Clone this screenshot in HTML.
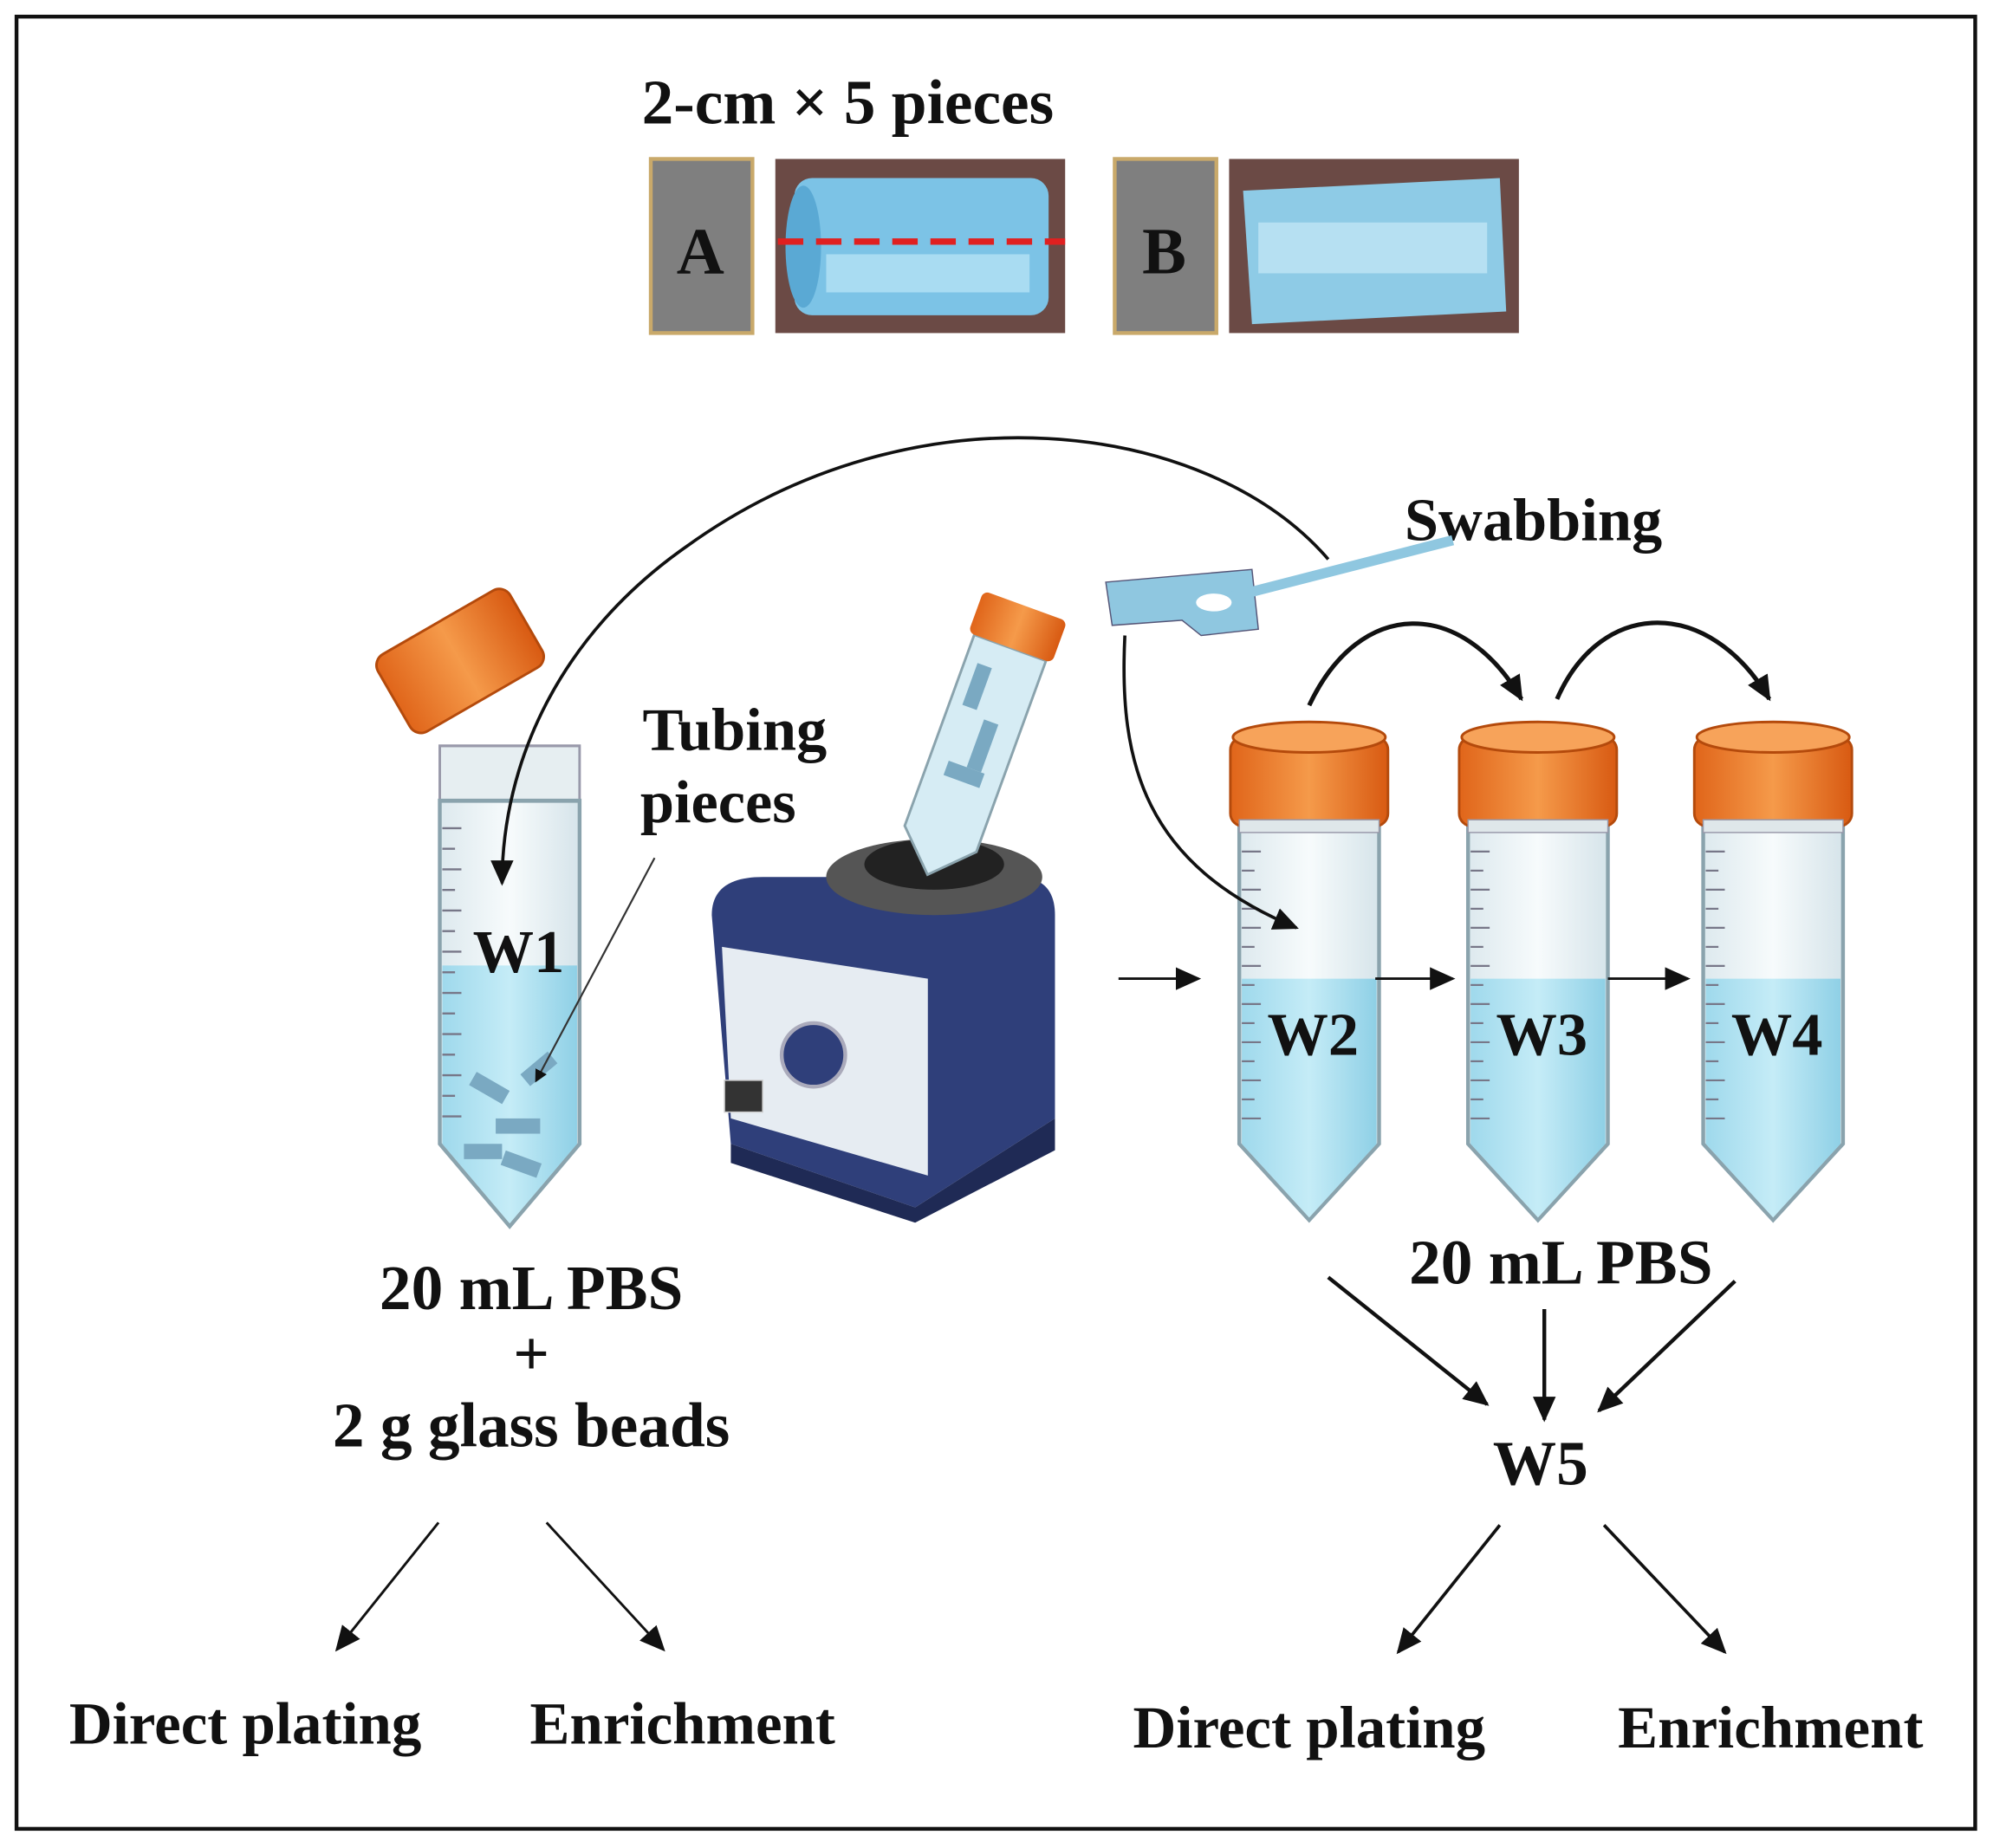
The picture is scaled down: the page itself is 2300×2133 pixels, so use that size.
<!DOCTYPE html>
<html><head><meta charset="utf-8"><style>
html,body{margin:0;padding:0;background:#fff;}
svg{display:block;}
text{font-family:"Liberation Serif",serif;font-weight:bold;fill:#111;}
</style></head><body>
<svg width="2300" height="2133" viewBox="0 0 1568 1454" xmlns="http://www.w3.org/2000/svg">
<defs>
<marker id="ah" markerWidth="10" markerHeight="10" refX="8" refY="5" orient="auto" markerUnits="userSpaceOnUse">
<path d="M0,0 L10,5 L0,10 z" fill="#111"/></marker>
<marker id="ahb" markerWidth="22" markerHeight="22" refX="18" refY="11" orient="auto" markerUnits="userSpaceOnUse">
<path d="M0,2 L20,11 L0,20 z" fill="#111"/></marker>
<linearGradient id="liq" x1="0" x2="1"><stop offset="0" stop-color="#9fd9ec"/><stop offset="0.5" stop-color="#c5ecf7"/><stop offset="1" stop-color="#8fd0e6"/></linearGradient>
<linearGradient id="glass" x1="0" x2="1"><stop offset="0" stop-color="#dde9ee"/><stop offset="0.5" stop-color="#f7fbfc"/><stop offset="1" stop-color="#d6e4ea"/></linearGradient>
<linearGradient id="cap" x1="0" x2="1"><stop offset="0" stop-color="#e0651a"/><stop offset="0.5" stop-color="#f59a4a"/><stop offset="1" stop-color="#d85a12"/></linearGradient>
<g id="tube">
<path d="M-55,0 L55,0 L55,250 L0,310 L-55,250 Z" fill="url(#glass)" stroke="#8aa3ad" stroke-width="3"/>
<path d="M-53,120 L53,120 L53,250 L0,308 L-53,250 Z" fill="url(#liq)"/>
<g stroke="#778" stroke-width="1.5">
<line x1="-53" y1="20" x2="-38" y2="20"/><line x1="-53" y1="35" x2="-43" y2="35"/><line x1="-53" y1="50" x2="-38" y2="50"/><line x1="-53" y1="65" x2="-43" y2="65"/><line x1="-53" y1="80" x2="-38" y2="80"/><line x1="-53" y1="95" x2="-43" y2="95"/><line x1="-53" y1="110" x2="-38" y2="110"/><line x1="-53" y1="125" x2="-43" y2="125"/><line x1="-53" y1="140" x2="-38" y2="140"/><line x1="-53" y1="155" x2="-43" y2="155"/><line x1="-53" y1="170" x2="-38" y2="170"/><line x1="-53" y1="185" x2="-43" y2="185"/><line x1="-53" y1="200" x2="-38" y2="200"/><line x1="-53" y1="215" x2="-43" y2="215"/><line x1="-53" y1="230" x2="-38" y2="230"/>
</g></g>
<g id="cap1">
<rect x="-62" y="-70" width="124" height="70" rx="10" fill="url(#cap)" stroke="#b44a0c" stroke-width="2"/>
<ellipse cx="0" cy="-70" rx="60" ry="12" fill="#f7a35a" stroke="#b44a0c" stroke-width="2"/>
<rect x="-55" y="-5" width="110" height="10" fill="#dfe7ea" stroke="#99a" stroke-width="1"/>
</g>
</defs>
<rect width="1568" height="1454" fill="#fff"/>
<rect x="13" y="13" width="1541" height="1426" fill="none" stroke="#111" stroke-width="3"/>

<text x="667" y="97" font-size="50" text-anchor="middle">2-cm × 5 pieces</text>
<rect x="512" y="125" width="80" height="137" fill="#7f7f7f" stroke="#c9a96a" stroke-width="3"/>
<text x="551" y="215" font-size="52" text-anchor="middle">A</text>
<rect x="610" y="125" width="228" height="137" fill="#6b4a45"/>
<rect x="625" y="140" width="200" height="108" rx="14" fill="#7cc3e6"/>
<ellipse cx="632" cy="194" rx="14" ry="48" fill="#5aa9d4"/>
<rect x="650" y="200" width="160" height="30" fill="#a9dcf2"/>
<line x1="612" y1="190" x2="838" y2="190" stroke="#e02020" stroke-width="5" stroke-dasharray="20,10"/>
<rect x="877" y="125" width="80" height="137" fill="#7f7f7f" stroke="#c9a96a" stroke-width="3"/>
<text x="916" y="215" font-size="52" text-anchor="middle">B</text>
<rect x="967" y="125" width="228" height="137" fill="#6b4a45"/>
<path d="M978,150 L1180,140 L1185,245 L985,255 Z" fill="#8ecbe6"/>
<rect x="990" y="175" width="180" height="40" fill="#b6e0f2"/>

<text x="1105" y="425" font-size="48">Swabbing</text>
<path d="M870,458 L985,448 L990,495 L945,500 L930,488 L875,492 Z" fill="#8fc7e0" stroke="#557" stroke-width="1"/>
<line x1="960" y1="472" x2="1143" y2="425" stroke="#8fc7e0" stroke-width="8"/>
<ellipse cx="955" cy="474" rx="14" ry="7" fill="#fff"/>

<!-- W1 -->
<g transform="translate(401,630) scale(1,1.08)">
<rect x="-55" y="-40" width="110" height="40" fill="#e6eef1" stroke="#99a" stroke-width="2"/>
<use href="#tube"/>
</g>
<g transform="translate(362,520) rotate(-30)"><rect x="-60" y="-35" width="120" height="70" rx="10" fill="url(#cap)" stroke="#b44a0c" stroke-width="2"/></g>
<g fill="#7aa9c2"><rect x="370" y="850" width="30" height="12" transform="rotate(30 385 856)"/><rect x="390" y="880" width="35" height="12"/><rect x="365" y="900" width="30" height="12"/><rect x="410" y="835" width="28" height="12" transform="rotate(-40 424 841)"/><rect x="395" y="910" width="30" height="12" transform="rotate(20 410 916)"/></g>
<text x="408" y="765" font-size="48" text-anchor="middle">W1</text>
<text x="578" y="590" font-size="48" text-anchor="middle">Tubing</text>
<text x="565" y="647" font-size="48" text-anchor="middle">pieces</text>

<!-- vortex -->
<path d="M560,720 Q560,690 600,690 L800,690 Q830,690 830,720 L830,880 L720,950 L575,900 Z" fill="#2f3f7a"/>
<path d="M575,900 L720,950 L830,880 L830,905 L720,962 L575,915 Z" fill="#1f2a55"/>
<path d="M568,745 L730,770 L730,925 L575,880 Z" fill="#e6ecf2"/>
<circle cx="640" cy="830" r="25" fill="#2f3f7a" stroke="#aab" stroke-width="3"/>
<rect x="570" y="850" width="30" height="25" fill="#333" stroke="#ccc"/>
<ellipse cx="735" cy="690" rx="85" ry="30" fill="#555"/>
<ellipse cx="735" cy="680" rx="55" ry="20" fill="#222"/>
<g transform="translate(740,660) rotate(20)">
<path d="M-30,0 L-30,-160 L30,-160 L30,0 L0,30 Z" fill="#d6ecf4" stroke="#8aa3ad" stroke-width="2"/>
<rect x="-20" y="-140" width="12" height="35" fill="#7aa9c2"/><rect x="0" y="-100" width="12" height="40" fill="#7aa9c2"/><rect x="-15" y="-60" width="30" height="12" fill="#7aa9c2"/>
<rect x="-35" y="-195" width="70" height="35" rx="5" fill="url(#cap)"/>
</g>

<!-- W2-W4 -->
<g transform="translate(1030,650)"><use href="#tube"/><use href="#cap1"/></g>
<g transform="translate(1210,650)"><use href="#tube"/><use href="#cap1"/></g>
<g transform="translate(1395,650)"><use href="#tube"/><use href="#cap1"/></g>
<text x="1033" y="830" font-size="48" text-anchor="middle">W2</text>
<text x="1213" y="830" font-size="48" text-anchor="middle">W3</text>
<text x="1398" y="830" font-size="48" text-anchor="middle">W4</text>
<line x1="880" y1="770" x2="943" y2="770" stroke="#111" stroke-width="2" marker-end="url(#ahb)"/>
<line x1="1082" y1="770" x2="1143" y2="770" stroke="#111" stroke-width="2" marker-end="url(#ahb)"/>
<line x1="1265" y1="770" x2="1328" y2="770" stroke="#111" stroke-width="2" marker-end="url(#ahb)"/>
<path d="M1030,555 C1070,470 1150,470 1197,550" fill="none" stroke="#111" stroke-width="3.5" marker-end="url(#ahb)"/>
<path d="M1225,550 C1260,470 1345,470 1392,550" fill="none" stroke="#111" stroke-width="3.5" marker-end="url(#ahb)"/>

<!-- connectors on top -->
<path d="M1045,440 C950,330 720,300 540,430 C440,500 395,600 395,695" fill="none" stroke="#111" stroke-width="2.5" marker-end="url(#ahb)"/>
<path d="M885,500 C880,600 900,680 1020,730" fill="none" stroke="#111" stroke-width="2.5" marker-end="url(#ahb)"/>
<line x1="515" y1="675" x2="422" y2="850" stroke="#333" stroke-width="1.5" marker-end="url(#ah)"/>

<text x="1228" y="1010" font-size="50" text-anchor="middle">20 mL PBS</text>
<line x1="1045" y1="1005" x2="1170" y2="1105" stroke="#111" stroke-width="3" marker-end="url(#ahb)"/>
<line x1="1215" y1="1030" x2="1215" y2="1117" stroke="#111" stroke-width="3" marker-end="url(#ahb)"/>
<line x1="1365" y1="1008" x2="1258" y2="1110" stroke="#111" stroke-width="3" marker-end="url(#ahb)"/>
<text x="1212" y="1168" font-size="50" text-anchor="middle">W5</text>
<line x1="1180" y1="1200" x2="1100" y2="1300" stroke="#111" stroke-width="2.5" marker-end="url(#ahb)"/>
<line x1="1262" y1="1200" x2="1357" y2="1300" stroke="#111" stroke-width="2.5" marker-end="url(#ahb)"/>
<text x="1030" y="1375" font-size="47" text-anchor="middle">Direct plating</text>
<text x="1393" y="1375" font-size="47" text-anchor="middle">Enrichment</text>

<text x="418" y="1030" font-size="50" text-anchor="middle">20 mL PBS</text>
<text x="418" y="1082" font-size="50" text-anchor="middle">+</text>
<text x="418" y="1138" font-size="50" text-anchor="middle">2 g glass beads</text>
<line x1="345" y1="1198" x2="265" y2="1298" stroke="#111" stroke-width="2" marker-end="url(#ahb)"/>
<line x1="430" y1="1198" x2="522" y2="1298" stroke="#111" stroke-width="2" marker-end="url(#ahb)"/>
<text x="193" y="1372" font-size="47" text-anchor="middle">Direct plating</text>
<text x="537" y="1372" font-size="47" text-anchor="middle">Enrichment</text>
</svg>
</body></html>
